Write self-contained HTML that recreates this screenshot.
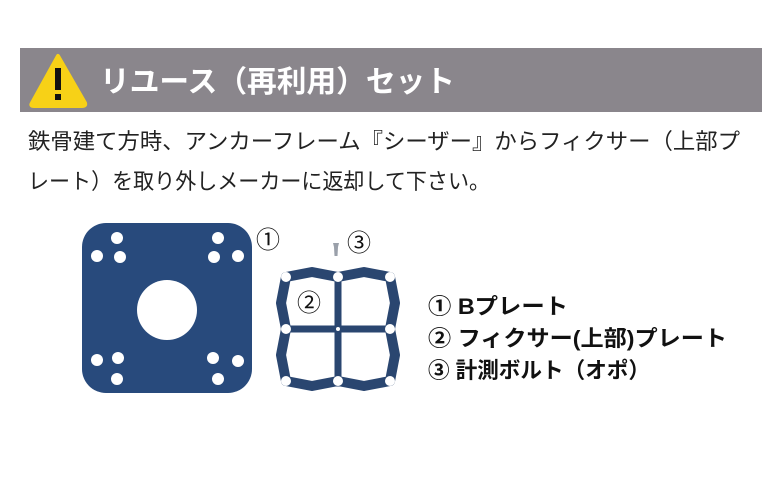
<!DOCTYPE html>
<html><head><meta charset="utf-8"><style>
html,body{margin:0;padding:0;background:#fff;}
svg{display:block;}
text{font-family:"Liberation Sans","Noto Sans CJK JP",sans-serif;}
</style></head><body>
<svg width="780" height="489" viewBox="0 0 780 489" xmlns="http://www.w3.org/2000/svg">
<rect x="20" y="48" width="742" height="64" fill="#8a868c"/>
<path d="M58 56 L85 103 Q86 106 82 106 L34 106 Q30 106 32 103 Z" fill="#f7d117" stroke="#f7d117" stroke-width="4" stroke-linejoin="round"/>
<rect x="55" y="68" width="6" height="22" fill="#111"/>
<rect x="55" y="94" width="6" height="6" fill="#111"/>
<text x="100" y="92" font-size="30" font-weight="bold" fill="#fff" textLength="355" lengthAdjust="spacingAndGlyphs">リユース（再利用）セット</text>
<text x="28" y="149" font-size="22" fill="#222" textLength="712" lengthAdjust="spacingAndGlyphs">鉄骨建て方時、アンカーフレーム『シーザー』からフィクサー（上部プ</text>
<text x="28" y="189" font-size="22" fill="#222" textLength="462" lengthAdjust="spacingAndGlyphs">レート）を取り外しメーカーに返却して下さい。</text>
<rect x="82" y="223" width="170" height="170" rx="24" fill="#284a7c"/>
<g fill="#fff">
<circle cx="167" cy="310" r="30"/>
<circle cx="117" cy="238" r="6"/><circle cx="218" cy="238" r="6"/>
<circle cx="97" cy="256" r="6"/><circle cx="120" cy="257" r="6"/>
<circle cx="214" cy="257" r="6"/><circle cx="238" cy="256" r="6"/>
<circle cx="97" cy="360" r="6"/><circle cx="118" cy="358" r="6"/>
<circle cx="213" cy="358" r="6"/><circle cx="238" cy="361" r="6"/>
<circle cx="117" cy="379" r="6"/><circle cx="218" cy="379" r="6"/>
</g>
<g fill="none" stroke="#2a4670" stroke-width="10" stroke-linejoin="round">
<path d="M286 277 L312 272 L338 277 L364 272 L390 277 L395 303 L390 329 L395 355 L390 381 L364 386 L338 381 L312 386 L286 381 L281 355 L286 329 L281 303 Z"/>
<path d="M286 329 L390 329 M338 277 L338 381" stroke-width="7"/>
</g>
<g fill="#fff">
<circle cx="286" cy="277" r="5"/><circle cx="338" cy="277" r="5"/><circle cx="390" cy="277" r="5"/>
<circle cx="286" cy="329" r="5"/><circle cx="338" cy="329" r="2"/><circle cx="390" cy="329" r="5"/>
<circle cx="286" cy="381" r="5"/><circle cx="338" cy="381" r="5"/><circle cx="390" cy="381" r="5"/>
</g>
<path d="M333 243 L339 243 L338 247 L337.5 256 L334.5 256 L334 247 Z" fill="#9aa0aa"/>
<text x="256" y="248" font-size="24" fill="#111">①</text>
<text x="347" y="251" font-size="24" fill="#111">③</text>
<text x="297" y="311" font-size="24" fill="#111">②</text>
<text x="428" y="314" font-size="22" font-weight="bold" fill="#111" textLength="140" lengthAdjust="spacingAndGlyphs">① Bプレート</text>
<text x="428" y="346" font-size="22" font-weight="bold" fill="#111" textLength="299" lengthAdjust="spacingAndGlyphs">② フィクサー(上部)プレート</text>
<text x="428" y="378" font-size="22" font-weight="bold" fill="#111" textLength="222" lengthAdjust="spacingAndGlyphs">③ 計測ボルト（オポ）</text>
</svg>
</body></html>
